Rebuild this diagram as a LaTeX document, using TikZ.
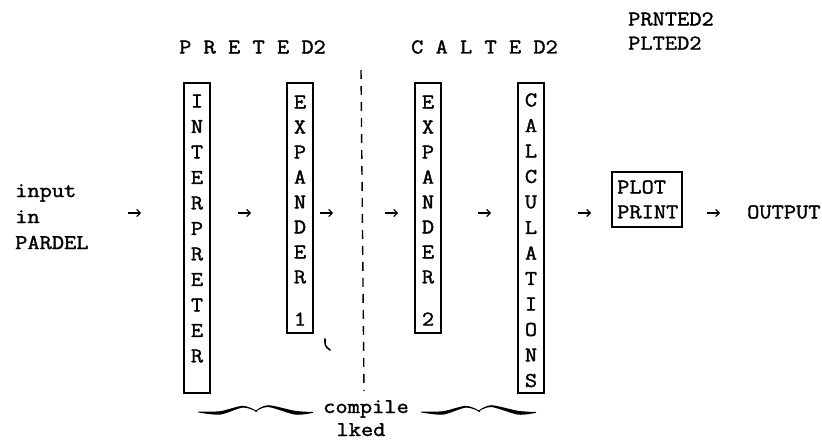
\documentclass[tikz,border=0pt]{standalone}
\usepackage{fontspec}
\newfontfamily\tw{Latin Modern Mono}[FakeBold=1.6, FakeStretch=1.13]
\usetikzlibrary{arrows.meta}

\tikzset{
  tt/.style={font=\tw\fontsize{21}{25.5}\selectfont, inner sep=0pt},
  col/.style={draw, line width=1.4pt, minimum width=26pt, inner sep=0pt},
  arr/.style={line width=1.1pt, -{Straight Barb[length=3.5pt,width=7pt]}},
  divider/.style={line width=1.4pt, dash pattern=on 9pt off 7pt},
  % hand-drawn horizontal brace, 115pt wide, origin at its left end
  wbrace/.pic={
    \fill plot[smooth] coordinates {(0,-0.4) (22,-0.8) (45,-6.2) (59,-1)}
          -- plot[smooth] coordinates {(59,-0.1) (45,-4.4) (22,2.6) (0,0.4)} -- cycle;
    \fill plot[smooth] coordinates {(57,-1) (70,-6.8) (97,-1.2) (115,0)}
          -- plot[smooth] coordinates {(115,0.8) (97,2.6) (70,-5) (57,-0.1)} -- cycle;
  },
}

\begin{document}
\begin{tikzpicture}[x=1pt, y=-1pt]
  \fill[white] (0,0) rectangle (822,441);
  \useasboundingbox (0,0) rectangle (822,441);

  % program names above the stages
  \node[tt, anchor=west] (pretlbl) at (179,47) {P R E T E D2};
  \node[tt, anchor=west] (caltlbl) at (411,47) {C A L T E D2};
  \node[tt, anchor=west] (prntlbl) at (628,19) {PRNTED2};
  \node[tt, anchor=west] (pltlbl)  at (628,43) {PLTED2};

  % input text
  \node[tt, anchor=base west] (in1) at (15,197) {input};
  \node[tt, anchor=base west] (in2) at (15,223) {in};
  \node[tt, anchor=base west] (in3) at (15,249) {PARDEL};

  % vertical stage boxes
  \node[col, minimum height=310pt] (interp) at (197,238) {};
  \foreach \c [count=\i] in {I,N,T,E,R,P,R,E,T,E,R}
    \node[tt] (interp-\i) at (197,{101+25.5*(\i-1)}) {\c};

  \node[col, minimum height=250pt] (expa) at (300,208) {};
  \foreach \c [count=\i] in {E,X,P,A,N,D,E,R}
    \node[tt] (expa-\i) at (300,{102+25*(\i-1)}) {\c};
  \node[tt] (expa-9) at (300,319) {1};

  \node[col, minimum height=250pt] (expb) at (428,208) {};
  \foreach \c [count=\i] in {E,X,P,A,N,D,E,R}
    \node[tt] (expb-\i) at (428,{102+25*(\i-1)}) {\c};
  \node[tt] (expb-9) at (428,319) {2};

  \node[col, minimum height=310pt] (calc) at (531,238) {};
  \foreach \c [count=\i] in {C,A,L,C,U,L,A,T,I,O,N,S}
    \node[tt] (calc-\i) at (531,{100+25.5*(\i-1)}) {\c};

  % plot / print box
  \node[col, minimum width=70pt, minimum height=55pt] (pp) at (647,199.5) {};
  \node[tt, anchor=west] (plot) at (617,187) {PLOT};
  \node[tt, anchor=west] (print) at (617,212) {PRINT};

  \node[tt, anchor=west] (out) at (747,212) {OUTPUT};

  % dashed divider between the two programs
  \coordinate (dtop) at (361,70);
  \coordinate (dbot) at (364,391);
  \draw[divider] (dtop) -- (dbot);

  % small stray stroke below EXPANDER 1
  \coordinate (sk1) at (325,339);
  \coordinate (sk2) at (330,350);
  \draw[line width=1.6pt, line cap=round] (sk1) .. controls (325,346) .. (sk2);

  % flow arrows
  \foreach \n/\xa in {1/128, 2/238, 3/320, 4/385, 5/478, 6/578, 7/707} {
    \coordinate (a\n s) at (\xa,213);
    \coordinate (a\n e) at (\xa+13,213);
    \draw[arr] (a\n s) -- (a\n e);
  }

  % braces under the compiled stages
  \pic at (198,412) {wbrace};
  \pic at (421,412) {wbrace};
  \node[tt, anchor=base] (comp) at (366,413) {compile};
  \node[tt, anchor=base] (lked) at (361,436) {lked};
\end{tikzpicture}
\end{document}
